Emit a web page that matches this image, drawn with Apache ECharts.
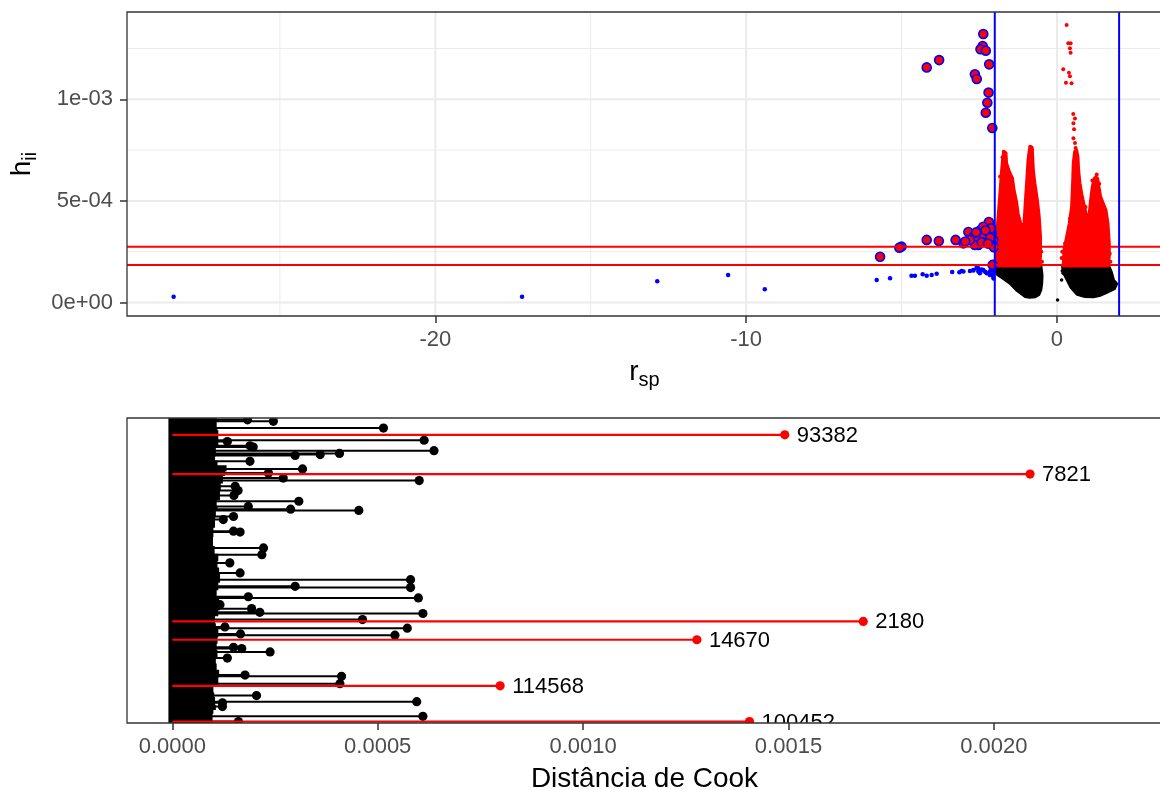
<!DOCTYPE html>
<html><head><meta charset="utf-8">
<script src="https://cdn.jsdelivr.net/npm/echarts@6/dist/echarts.min.js"></script>
<style>html,body{margin:0;padding:0;background:#fff}#c{width:1160px;height:790px}</style>
</head><body><div id="c"></div>
<script>
// ================= Top panel: h_ii vs r_sp =================
const xTicksTop = [-20, -10, 0];
const xMinorTop = [-25, -15, -5];
const yTicksTop = [0, 0.0005, 0.001];
const yTickLabelsTop = ['0e+00', '5e-04', '1e-03'];
const yMinorTop = [0.00025, 0.00075, 0.00125];
const leverageCuts = [0.0001845, 0.0002746];
const residualCuts = [-2, 2];

// influential observations (red fill, blue outline)
const influentialPts = [
  [-2.37,0.001321],[-2.39,0.001262],[-2.46,0.001246],[-2.29,0.001239],[-3.79,0.001193],
  [-4.19,0.001157],[-2.18,0.001172],[-2.64,0.001123],[-2.58,0.00110],[-2.20,0.001033],
  [-2.24,0.000983],[-2.29,0.000934],[-2.08,0.000859],
  [-2.19,0.000396],[-2.85,0.000347],[-4.19,0.000308],[-3.80,0.000303],[-3.26,0.000308],
  [-3.01,0.000291],[-2.69,0.000324],[-2.53,0.000308],[-2.46,0.000357],[-2.37,0.000373],
  [-2.26,0.000348],[-2.10,0.000341],[-2.05,0.000308],[-2.03,0.000272],[-2.53,0.000283],
  [-2.64,0.000283],[-2.80,0.000308],[-2.33,0.000330],[-2.15,0.000318],[-2.42,0.000296],
  [-2.22,0.000290],[-2.12,0.000365],[-2.30,0.000355],[-2.95,0.000300],[-2.60,0.000345],
  [-5.00,0.000275],[-5.07,0.000270],[-5.69,0.000225],[-2.07,0.000185]
];
// outlying residuals with low leverage (small blue)
const outlierPts = [
  [-28.42,0.0000285],[-17.21,0.0000285],[-12.86,0.000104],[-10.58,0.000135],[-9.40,0.000065],
  [-5.80,0.000111],[-5.37,0.000119],[-4.68,0.000132],[-4.57,0.000132],[-4.32,0.000139],
  [-4.19,0.000132],[-4.03,0.000135],[-3.87,0.000142],[-3.37,0.000150],[-3.14,0.000149],
  [-3.07,0.000155],[-2.80,0.000155],[-2.69,0.000160],[-2.58,0.000176],[-2.53,0.000152],
  [-2.48,0.000144],[-2.37,0.000157],[-2.26,0.000144],[-2.16,0.000152],[-2.07,0.000135],
  [-2.03,0.000163],[-2.58,0.000168],[-3.01,0.000152],[-2.69,0.000157],[-2.53,0.000168],
  [-2.37,0.000160],[-2.16,0.000135],[-2.05,0.000127],[-2.10,0.000168],[-2.12,0.000158],
  [-2.30,0.000150],[-2.42,0.000162],[-2.02,0.000145],[-2.04,0.000118]
];
// sparse high-leverage points (small red)
const redPts = [
  [0.312,0.001366],[0.364,0.001276],[0.44,0.001276],[0.418,0.001251],[0.44,0.001229],
  [0.203,0.001148],[0.386,0.001131],[0.418,0.001114],[0.29,0.001082],[0.47,0.001079],
  [0.524,0.000928],[0.58,0.000906],[0.53,0.000882],[0.55,0.000852],[0.53,0.000808],
  [0.58,0.000785],[0.60,0.00076],[0.418,0.000414],[0.17,0.00025],[0.15,0.000219],
  [0.26,0.00029],[-1.71,0.000742],[-0.86,0.000767],[-1.75,0.000715],[-0.80,0.00075],
  [-1.83,0.00062],[1.28,0.00063],[1.36,0.000585],[1.14,0.0006],[0.92,0.00047],
  [1.55,0.00043],[1.70,0.00024],[1.72,0.0002],[-1.97,0.00021],[-0.50,0.00025],[-0.48,0.0002]
];
// sparse low-leverage points (small black)
const blackPts = [
  [0.02,0.0000123],[0.20,0.000144],[0.15,0.000111],[0.17,0.000155],[0.25,0.000165],
  [1.88,0.000095],[1.80,0.000075],[-1.92,0.00014]
];
// outlines of the dense point masses
const redMassLeft = [
  [-1.96,0.00018],[-1.94,0.000291],[-1.91,0.00039],[-1.86,0.000488],[-1.81,0.000587],
  [-1.78,0.000652],[-1.75,0.000701],[-1.71,0.000742],[-1.64,0.000737],[-1.62,0.000685],
  [-1.53,0.000644],[-1.43,0.000611],[-1.38,0.000554],[-1.30,0.000496],[-1.25,0.000439],
  [-1.14,0.000373],[-1.06,0.00039],[-1.02,0.000488],[-0.97,0.000603],[-0.93,0.000701],
  [-0.89,0.00075],[-0.86,0.000767],[-0.80,0.000764],[-0.78,0.000718],[-0.76,0.000652],
  [-0.71,0.000587],[-0.63,0.000504],[-0.57,0.000422],[-0.53,0.000324],[-0.53,0.000226],
  [-0.55,0.00018]
];
const redMassRight = [
  [0.203,0.00018],[0.225,0.000258],[0.312,0.000324],[0.397,0.00039],[0.472,0.000472],
  [0.504,0.000587],[0.525,0.000685],[0.568,0.000742],[0.633,0.00075],[0.676,0.000718],
  [0.697,0.000652],[0.74,0.000587],[0.815,0.000521],[0.912,0.000455],[0.987,0.000406],
  [1.04,0.000439],[1.083,0.000504],[1.137,0.00057],[1.201,0.000611],[1.255,0.000619],
  [1.31,0.000611],[1.351,0.00057],[1.405,0.000521],[1.49,0.000488],[1.577,0.000455],
  [1.641,0.00039],[1.684,0.000291],[1.684,0.000226],[1.652,0.00018]
];
const blackMassLeft = [
  [-1.96,0.000185],[-0.52,0.000185],[-0.48,0.000135],[-0.49,0.0000945],[-0.52,0.0000615],
  [-0.58,0.0000400],[-0.70,0.0000280],[-0.87,0.0000256],[-1.03,0.0000300],[-1.30,0.0000615],
  [-1.51,0.0000945],[-1.70,0.000115],[-1.89,0.000135],[-1.96,0.00016]
];
const blackMassRight = [
  [0.18,0.000185],[1.65,0.000185],[1.75,0.00015],[1.82,0.00011],[1.92,0.000092],
  [1.85,0.000068],[1.60,0.00005],[1.40,0.000036],[1.17,0.0000285],[0.90,0.000029],
  [0.65,0.00004],[0.45,0.000075],[0.30,0.00012],[0.20,0.00015]
];

// ================= Bottom panel: Cook's distance =================
const cookTicks = [0, 0.0005, 0.001, 0.0015, 0.002];
// dense block of rows with tiny Cook's distance: right edge per row position
const denseEdgePos = [100,97,96,92,91,87.5,86,84.5,82.5,81,78.5,76,73,71,69.5,67.5,64,61,58,55.5,53,51,49,46,43.5,41.5,40,37,35,32.7,31.5,28,26,24,21,19.5,17.5,15,12,10,8.5,6,4.3,3,0];
const denseEdgeCook = [0.000108,0.000110,0.000112,0.000112,0.000106,0.000104,0.000110,0.000132,0.000128,0.000123,0.000118,0.000116,0.000108,0.000110,0.000106,0.000104,0.000100,0.000099,0.000103,0.000112,0.000110,0.000114,0.000116,0.000112,0.000108,0.000114,0.000116,0.000112,0.000104,0.000106,0.000112,0.000110,0.000108,0.000110,0.000106,0.000108,0.000114,0.000112,0.000100,0.000102,0.000104,0.000106,0.000100,0.000098,0.000100];
// visible black lollipops
const lollipopPos = [99.4,98.9,96.7,92.7,92.3,90.9,90.5,89.3,88.4,88.0,87.7,85.8,83.3,82.0,80.3,79.5,77.6,76.2,74.6,72.7,71.0,70.1,69.7,67.7,66.7,62.9,62.6,57.4,55.2,52.5,49.2,47.0,44.8,44.4,41.4,41.0,38.8,37.5,36.3,35.9,33.9,31.5,31.1,29.2,28.8,24.8,24.4,23.3,21.3,15.7,15.3,12.9,9.0,7.0,6.6,5.4,2.2,0.5];
const lollipopCook = [0.000183,0.000246,0.000514,0.000613,0.000134,0.000189,0.000197,0.000637,0.000407,0.00036,0.000299,0.000189,0.000317,0.000234,0.00027,0.000601,0.000153,0.00016,0.00015,0.000308,0.000185,0.000288,0.000454,0.000149,0.000124,0.000149,0.000165,0.000222,0.000218,0.00014,0.000165,0.00058,0.000299,0.00058,0.000185,0.000599,0.000116,0.000193,0.000213,0.00061,0.000463,0.000128,0.000572,0.000166,0.000542,0.000149,0.000169,0.000238,0.000134,0.000177,0.000412,0.000408,0.000205,0.000595,0.000122,0.000122,0.00061,0.000161];
// flagged observations (red, labelled)
const flaggedPos = [94.5, 81.6, 33.3, 27.3, 12.2, 0.5];
const flaggedCook = [0.001491, 0.002088, 0.001682, 0.001277, 0.000798, 0.001405];
const flaggedIds = ['93382', '7821', '2180', '14670', '114568', '100452'];

// ================= build chart =================
const FONT = '"Liberation Sans", Arial, sans-serif';
const RED = '#FF0000', BLUE = '#0000FF';

function vLines(values, gi, style, z) {
  return { type: 'custom', xAxisIndex: gi, yAxisIndex: gi, z: z, silent: true, clip: true,
    data: values.map(v => [v, 0]), encode: { x: 0, y: 1 },
    renderItem: (p, api) => {
      const cs = p.coordSys; const x = api.coord([api.value(0), api.value(1)])[0];
      return { type: 'line', shape: { x1: x, y1: cs.y, x2: x, y2: cs.y + cs.height }, style: style };
    } };
}
function hLines(values, gi, style, z) {
  return { type: 'custom', xAxisIndex: gi, yAxisIndex: gi, z: z, silent: true, clip: true,
    data: values.map(v => [0, v]), encode: { x: 0, y: 1 },
    renderItem: (p, api) => {
      const cs = p.coordSys; const y = api.coord([api.value(0), api.value(1)])[1];
      return { type: 'line', shape: { x1: cs.x, y1: y, x2: cs.x + cs.width, y2: y }, style: style };
    } };
}
function mass(outline, color, z) {
  return { type: 'custom', xAxisIndex: 0, yAxisIndex: 0, z: z, silent: true, clip: true,
    data: [outline[0]], encode: { x: 0, y: 1 },
    renderItem: (p, api) => ({ type: 'polygon', shape: { points: outline.map(pt => api.coord(pt)) },
      style: { fill: color, stroke: color, lineWidth: 3, lineJoin: 'round' } }) };
}
function pts(data, size, color, z, extra) {
  return Object.assign({ type: 'scatter', xAxisIndex: 0, yAxisIndex: 0, z: z, silent: true,
    data: data, symbol: 'circle', symbolSize: size, itemStyle: { color: color, opacity: 1 } }, extra || {});
}

const gridMajor = { stroke: '#EBEBEB', lineWidth: 2 };
const gridMinor = { stroke: '#EBEBEB', lineWidth: 1 };
const tickStyle = { color: '#333', width: 1.5 };
const lblStyle = { color: '#4D4D4D', fontSize: 22, fontFamily: FONT };
const noLine = { show: false, onZero: false };

const option = {
  animation: false,
  backgroundColor: '#fff',
  textStyle: { fontFamily: FONT },
  grid: [
    { left: 127, top: 12, right: -2, height: 304, show: true, borderColor: '#333', borderWidth: 1.3, backgroundColor: 'transparent', z: 10, containLabel: false, outerBoundsMode: 'none' },
    { left: 127, top: 418, right: -2, height: 305, show: true, borderColor: '#333', borderWidth: 1.3, backgroundColor: 'transparent', z: 10, containLabel: false, outerBoundsMode: 'none' }
  ],
  xAxis: [
    { gridIndex: 0, type: 'value', position: 'bottom', min: -29.92, max: 3.38, splitLine: { show: false }, axisLine: noLine,
      axisTick: { show: true, length: 7, lineStyle: tickStyle, customValues: xTicksTop },
      axisLabel: Object.assign({ margin: 13, customValues: xTicksTop, formatter: v => String(v) }, lblStyle),
      name: '{m|r}{s|sp}', nameLocation: 'middle', nameGap: 38,
      nameTextStyle: { rich: { m: { fontSize: 28, color: '#000', fontFamily: FONT }, s: { fontSize: 20, color: '#000', fontFamily: FONT, padding: [16, 0, 0, 0] } } } },
    { gridIndex: 1, type: 'value', position: 'bottom', min: -0.0001103, max: 0.0024092, splitLine: { show: false }, axisLine: noLine,
      axisTick: { show: true, length: 7, lineStyle: tickStyle, customValues: cookTicks },
      axisLabel: Object.assign({ margin: 13, customValues: cookTicks, formatter: v => v.toFixed(4) }, lblStyle),
      name: 'Distância de Cook', nameLocation: 'middle', nameGap: 42,
      nameTextStyle: { fontSize: 28, color: '#000', fontFamily: FONT } }
  ],
  yAxis: [
    { gridIndex: 0, type: 'value', position: 'left', min: -0.0000664, max: 0.0014296, splitLine: { show: false }, axisLine: noLine,
      axisTick: { show: true, length: 7, lineStyle: tickStyle, customValues: yTicksTop },
      axisLabel: Object.assign({ margin: 14, customValues: yTicksTop, formatter: v => yTickLabelsTop[yTicksTop.indexOf(v)] }, lblStyle),
      name: '{m|h}{s|ii}', nameLocation: 'middle', nameGap: 85, nameRotate: 90,
      nameTextStyle: { rich: { m: { fontSize: 28, color: '#000', fontFamily: FONT }, s: { fontSize: 20, color: '#000', fontFamily: FONT, padding: [16, 0, 0, 0] } } } },
    { gridIndex: 1, type: 'value', min: 0, max: 100, show: false, axisLine: noLine, splitLine: { show: false } }
  ],
  series: [
    // top panel grid
    vLines(xMinorTop, 0, gridMinor, 0), vLines(xTicksTop, 0, gridMajor, 0),
    hLines(yMinorTop, 0, gridMinor, 0), hLines(yTicksTop, 0, gridMajor, 0),
    // dense masses and sparse points
    mass(blackMassLeft, '#000', 1), mass(blackMassRight, '#000', 1),
    pts(blackPts, 3.5, '#000', 1),
    mass(redMassLeft, RED, 2), mass(redMassRight, RED, 2),
    pts(redPts, 4, RED, 2),
    pts(outlierPts, 4.5, BLUE, 3),
    pts(influentialPts, 9, RED, 4, { itemStyle: { color: RED, borderColor: BLUE, borderWidth: 1.6, opacity: 1 } }),
    // reference lines
    hLines(leverageCuts, 0, { stroke: RED, lineWidth: 2 }, 5),
    vLines(residualCuts, 0, { stroke: BLUE, lineWidth: 2 }, 5),

    // bottom panel: dense block
    { type: 'custom', xAxisIndex: 1, yAxisIndex: 1, z: 1, silent: true, clip: true,
      data: [[0, 0]], encode: { x: 0, y: 1 },
      renderItem: (p, api) => {
        const left = -0.0000095; const points = [api.coord([left, denseEdgePos[0]])];
        for (let i = 0; i < denseEdgePos.length; i++) {
          const next = i + 1 < denseEdgePos.length ? denseEdgePos[i + 1] : denseEdgePos[i];
          points.push(api.coord([denseEdgeCook[i], denseEdgePos[i]]));
          points.push(api.coord([denseEdgeCook[i], next]));
        }
        points.push(api.coord([left, denseEdgePos[denseEdgePos.length - 1]]));
        return { type: 'polygon', shape: { points: points }, style: { fill: '#000' } };
      } },
    // black lollipops
    { type: 'custom', xAxisIndex: 1, yAxisIndex: 1, z: 2, silent: true, clip: true,
      data: lollipopPos.map((v, i) => [lollipopCook[i], v]), encode: { x: 0, y: 1 },
      renderItem: (p, api) => {
        const a = api.coord([0, api.value(1)]), b = api.coord([api.value(0), api.value(1)]);
        return { type: 'group', children: [
          { type: 'line', shape: { x1: a[0], y1: a[1], x2: b[0], y2: b[1] }, style: { stroke: '#000', lineWidth: 2 } },
          { type: 'circle', shape: { cx: b[0], cy: b[1], r: 4.6 }, style: { fill: '#000' } } ] };
      } },
    // red flagged lollipops with labels
    { type: 'custom', xAxisIndex: 1, yAxisIndex: 1, z: 3, silent: true, clip: true,
      data: flaggedPos.map((v, i) => [flaggedCook[i], v, i]), encode: { x: 0, y: 1 },
      renderItem: (p, api) => {
        const a = api.coord([0, api.value(1)]), b = api.coord([api.value(0), api.value(1)]);
        return { type: 'group', children: [
          { type: 'line', shape: { x1: a[0], y1: a[1], x2: b[0], y2: b[1] }, style: { stroke: RED, lineWidth: 2.2 } },
          { type: 'circle', shape: { cx: b[0], cy: b[1], r: 4.6 }, style: { fill: RED } },
          { type: 'text', style: { x: b[0] + 12, y: b[1] + 1, text: flaggedIds[api.value(2)], fill: '#000',
              font: '22px ' + FONT, align: 'left', verticalAlign: 'middle' } } ] };
      } }
  ]
};
const chart = echarts.init(document.getElementById('c'), null, { renderer: 'canvas' });
chart.setOption(option);
</script></body></html>
